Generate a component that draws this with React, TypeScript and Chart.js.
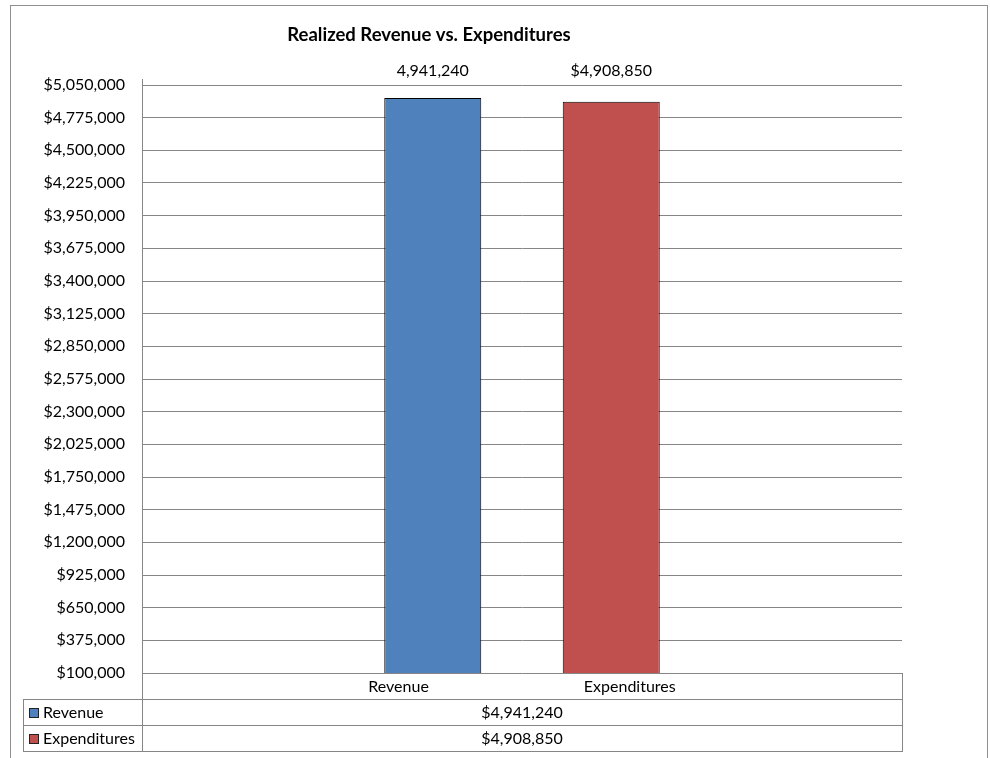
import React, { useEffect, useRef } from "react";
import { Chart, registerables } from "chart.js";

Chart.register(...registerables);

const chartTitle = "Realized Revenue vs. Expenditures";
const categoryLabel = ["Revenue", "Expenditures"];
const seriesNames = ["Revenue", "Expenditures"];
const seriesValues = [4941240, 4908850];
const barValueLabels = ["4,941,240", "$4,908,850"];
const tableValueLabels = ["$4,941,240", "$4,908,850"];
const seriesColors = ["#4F81BD", "#C0504D"];
const yMin = 100000;
const yMax = 5050000;
const yStep = 275000;

const FONT = "Lato, 'Open Sans', sans-serif";
const GRID = "#868686";
const TXT = 16;

const extrasPlugin = {
  id: "excelExtras",
  afterDraw(chart: any) {
    const ctx = chart.ctx as CanvasRenderingContext2D;
    const area = chart.chartArea;
    const L = area.left;
    const R = area.right;
    const B = area.bottom;
    const rowH = 26;
    const tableLeft = 23;
    ctx.save();

    // outer frame
    ctx.strokeStyle = "#8f8f8f";
    ctx.lineWidth = 1;
    ctx.strokeRect(10.5, 5.5, 977, 800);

    // title
    ctx.fillStyle = "#000";
    ctx.font = `bold 18.5px ${FONT}`;
    ctx.textAlign = "center";
    ctx.textBaseline = "middle";
    ctx.fillText(chartTitle, 429, 35);

    // axis line and table grid
    ctx.strokeStyle = GRID;
    ctx.beginPath();
    ctx.moveTo(L + 0.5, area.top - 6);
    ctx.lineTo(L + 0.5, B + rowH * 3 + 1);
    ctx.moveTo(R + 0.5, B);
    ctx.lineTo(R + 0.5, B + rowH * 3 + 1);
    ctx.moveTo(tableLeft + 0.5, B + rowH);
    ctx.lineTo(tableLeft + 0.5, B + rowH * 3 + 1);
    for (let r = 1; r <= 3; r++) {
      const y = Math.round(B + rowH * r) + 0.5;
      ctx.moveTo(tableLeft, y);
      ctx.lineTo(R + 1, y);
    }
    ctx.stroke();

    // category label row
    ctx.font = `${TXT}px ${FONT}`;
    ctx.fillStyle = "#000";
    ctx.textBaseline = "middle";
    const mid = (L + R) / 2;
    const gap = 155;
    const w0 = ctx.measureText(categoryLabel[0]).width;
    const w1 = ctx.measureText(categoryLabel[1]).width;
    const total = w0 + gap + w1;
    ctx.textAlign = "left";
    ctx.fillText(categoryLabel[0], mid - total / 2, B + rowH / 2 + 1);
    ctx.fillText(categoryLabel[1], mid - total / 2 + w0 + gap, B + rowH / 2 + 1);

    // table rows
    seriesNames.forEach((name, i) => {
      const cy = B + rowH * (i + 1) + rowH / 2 + 1;
      ctx.fillStyle = seriesColors[i];
      ctx.fillRect(29, cy - 5, 10, 10);
      ctx.strokeStyle = "#222";
      ctx.strokeRect(29.5, cy - 4.5, 9, 9);
      ctx.fillStyle = "#000";
      ctx.textAlign = "left";
      ctx.fillText(name, 43, cy);
      ctx.textAlign = "center";
      ctx.fillText(tableValueLabels[i], mid, cy);
    });

    // value labels above bars
    let topY = Infinity;
    chart.data.datasets.forEach((_: any, i: number) => {
      const el = chart.getDatasetMeta(i).data[0];
      if (el) topY = Math.min(topY, el.y);
    });
    chart.data.datasets.forEach((_: any, i: number) => {
      const el = chart.getDatasetMeta(i).data[0];
      if (!el) return;
      ctx.textAlign = "center";
      ctx.fillText(barValueLabels[i], el.x, topY - 27);
    });

    ctx.restore();
  },
};

export default function App() {
  const ref = useRef<HTMLCanvasElement | null>(null);
  useEffect(() => {
    if (!ref.current) return;
    Chart.defaults.font.family = FONT;
    const chart = new Chart(ref.current, {
      type: "bar",
      data: {
        labels: [categoryLabel.join(" ")],
        datasets: seriesNames.map((name, i) => ({
          label: name,
          data: [seriesValues[i]],
          backgroundColor: seriesColors[i],
          borderColor: "#000",
          borderWidth: 1,
          categoryPercentage: 0.4697,
          barPercentage: 0.5434,
        })),
      },
      options: {
        responsive: false,
        animation: false,
        layout: { padding: { left: 0, right: 88, top: 85, bottom: 85 } },
        plugins: {
          legend: { display: false },
          title: { display: false },
          tooltip: { enabled: false },
        },
        scales: {
          x: { display: false },
          y: {
            min: yMin,
            max: yMax,
            afterFit(scale: any) {
              scale.width = 142;
            },
            ticks: {
              stepSize: yStep,
              padding: 17,
              color: "#000",
              font: { size: TXT, family: FONT },
              callback: (v: any) => "$" + Number(v).toLocaleString("en-US"),
            },
            grid: { color: GRID, drawTicks: false },
            border: { display: true, color: GRID },
          },
        },
      },
      plugins: [extrasPlugin],
    });
    return () => chart.destroy();
  }, []);
  return (
    <div style={{ position: "absolute", left: 0, top: 0, width: 990, height: 758, background: "#fff" }}>
      <canvas ref={ref} width={990} height={758} />
    </div>
  );
}
